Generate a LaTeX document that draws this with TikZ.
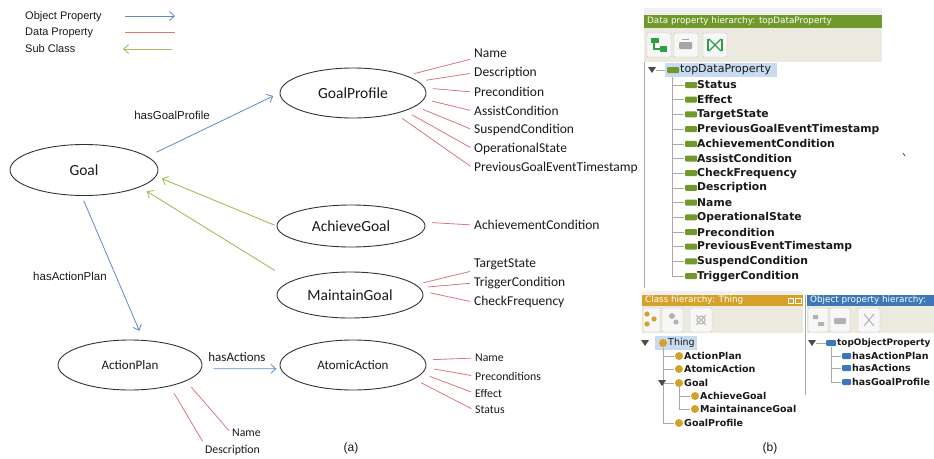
\documentclass[tikz,border=0pt]{standalone}
\usepackage{fontspec}
\setmainfont{Carlito}
\newfontfamily\arialfont{Liberation Sans}
\newfontfamily\protfont{DejaVu Sans}
\usepackage{tikz}
\usetikzlibrary{arrows.meta}
\usetikzlibrary{shapes.geometric}
\usetikzlibrary{positioning}

\definecolor{objblue}{HTML}{5B8BCB}
\definecolor{datared}{HTML}{D9787A}
\definecolor{subgreen}{HTML}{9CBF5E}
\definecolor{dpgreen}{HTML}{6F9A2B}
\definecolor{clsgold}{HTML}{D5A12A}
\definecolor{opblue}{HTML}{3C78B8}
\definecolor{barbeige}{HTML}{ECEADF}
\definecolor{selblue}{HTML}{C9DBF0}
\definecolor{btnedge}{HTML}{C6C3B4}
\definecolor{treegray}{HTML}{A8A8A8}
\definecolor{icongreen}{HTML}{2E9E46}

\begin{document}
\begin{tikzpicture}
	[x=1pt,y=-1pt,every node/.style={inner sep=1pt,text=black!90},
	 cls/.style={ellipse,draw=black!80,line width=.9pt,inner sep=0pt,font=\fontsize{15.5}{16}\selectfont},
	 lowcls/.style={cls,font=\fontsize{13}{14}\selectfont},
	 objprop/.style={draw=objblue,line width=.8pt,shorten <=6pt,shorten >=6pt,-{Straight Barb[length=5pt,width=9pt]}},
	 subcls/.style={draw=subgreen,line width=.9pt,shorten <=2pt,shorten >=6pt,-{Straight Barb[length=5pt,width=9pt]}},
	 dataprop/.style={draw=datared,line width=.8pt,shorten <=8pt,shorten >=3pt},
	 dlabel/.style={anchor=west,font=\fontsize{13.5}{14}\selectfont},
	 slabel/.style={anchor=west,font=\fontsize{11.8}{12}\selectfont},
	 legend/.style={anchor=west,font=\arialfont\fontsize{11}{12}\selectfont},
	 elabel/.style={font=\arialfont\fontsize{11.5}{12}\selectfont},
	 headtext/.style={anchor=west,text=white,font=\protfont\fontsize{8.8}{9}\selectfont},
	 roottext/.style={anchor=west,font=\protfont\fontsize{11}{12}\selectfont},
	 rowtext/.style={anchor=west,font=\protfont\bfseries\fontsize{10.8}{11}\selectfont},
	 smallrow/.style={anchor=west,font=\protfont\bfseries\fontsize{9.5}{10}\selectfont},
	 btn/.style={draw=btnedge,fill=black!3,rounded corners=1pt},
	 treeline/.style={draw=treegray,line width=.6pt}]
	\useasboundingbox (0,0) rectangle (934,458);

	% legend
	\node[legend] (lgobj) at (24,17) {Object Property};
	\node[legend] (lgdata) at (24,33) {Data Property};
	\node[legend] (lgsub) at (24,49) {Sub Class};
	\coordinate (lo1) at (125,16); \coordinate (lo2) at (175,16);
	\coordinate (ld1) at (125,32); \coordinate (ld2) at (175,32);
	\coordinate (ls1) at (123,49); \coordinate (ls2) at (172,49);
	\draw[objprop,shorten <=0pt,shorten >=0pt] (lo1) -- (lo2);
	\draw[dataprop,shorten <=0pt,shorten >=0pt] (ld1) -- (ld2);
	\draw[subcls,shorten <=0pt,shorten >=0pt] (ls2) -- (ls1);

	% classes
	\node[cls,minimum width=148pt,minimum height=51pt] (goal) at (84,170) {Goal};
	\node[cls,minimum width=146pt,minimum height=50pt] (gp) at (353,93) {GoalProfile};
	\node[cls,minimum width=148pt,minimum height=42pt] (ag) at (351,226) {AchieveGoal};
	\node[cls,minimum width=146pt,minimum height=46pt] (mg) at (350,295) {MaintainGoal};
	\node[lowcls,minimum width=144pt,minimum height=50pt] (ap) at (130,365) {ActionPlan};
	\node[lowcls,minimum width=146pt,minimum height=50pt] (aa) at (353,365) {AtomicAction};

	% data properties
	\node[dlabel] (gpn1) at (473,53) {Name};
	\node[dlabel] (gpn2) at (473,73) {Description};
	\node[dlabel] (gpn3) at (473,92) {Precondition};
	\node[dlabel] (gpn4) at (473,111) {AssistCondition};
	\node[dlabel] (gpn5) at (473,130) {SuspendCondition};
	\node[dlabel] (gpn6) at (473,149) {OperationalState};
	\node[dlabel] (gpn7) at (473,168) {PreviousGoalEventTimestamp};
	\node[dlabel] (agc) at (473,225) {AchievementCondition};
	\node[dlabel] (mg1) at (473,264) {TargetState};
	\node[dlabel] (mg2) at (473,283) {TriggerCondition};
	\node[dlabel] (mg3) at (473,302) {CheckFrequency};
	\node[slabel] (aa1) at (474,358) {Name};
	\node[slabel] (aa2) at (474,376) {Preconditions};
	\node[slabel] (aa3) at (474,393) {Effect};
	\node[slabel] (aa4) at (474,410) {Status};
	\node[slabel] (apn) at (231,433) {Name};
	\node[slabel] (apd) at (204,450) {Description};

	\foreach \from/\to in
	{gp.18/gpn1.south west, gp.10/gpn2.west, gp.4/gpn3.west, gp.-5/gpn4.west,
	 gp.-12/gpn5.west, gp.-19/gpn6.west, gp.-26/gpn7.west, ag.3/agc.west,
	 mg.9/mg1.south west, mg.6/mg2.west, mg.3/mg3.west,
	 aa.4/aa1.west, aa.-2/aa2.west, aa.-7/aa3.west, aa.-13/aa4.west,
	 ap.-16/apn.west, ap.-28/apd.north west}
	\draw[dataprop] (\from) -- (\to);

	% object properties
	\draw[objprop,shorten <=10pt,shorten >=7pt] (goal.12) -- (gp.west);
	\draw[objprop,shorten <=5pt,shorten >=10pt] (goal.-95) -- (ap.62);
	\draw[objprop,shorten <=12pt,shorten >=4pt] (ap.-3) -- (aa.183);
	\node[elabel] (lblhgp) at (172,115) {hasGoalProfile};
	\node[elabel] (lblhap) at (70,276) {hasActionPlan};
	\node[font=\fontsize{13}{14}\selectfont] (lblha) at (237,357) {hasActions};

	% sub classes
	\draw[subcls] (ag.west) -- (goal.-5);
	\draw[subcls,shorten >=8pt] (mg.west |- mg.north) -- (goal.-17);

	\node[font=\arialfont\fontsize{12}{13}\selectfont] (capa) at (351,448) {(a)};
	\node[font=\arialfont\fontsize{12}{13}\selectfont] (capb) at (770,448) {(b)};

	% data property hierarchy panel
	\fill[black!6] (644,8) rectangle (882,15);
	\fill[dpgreen] (644,15) rectangle (882,28);
	\node[headtext] (dphead) at (646,21.5) {Data property hierarchy: topDataProperty};
	\fill[barbeige] (644,28) rectangle (882,62);
	\foreach \bx in {647,674,703} \draw[btn] (\bx,33) rectangle ++(24,24);
	\fill[icongreen] (651,38) rectangle (659,43);
	\draw[icongreen,line width=1.2pt] (654,43) -- (654,49) -- (660,49);
	\fill[icongreen] (660,46) rectangle (667,52);
	\fill[black!35,rounded corners=1pt] (679,42) rectangle (692,49);
	\draw[black!35,line width=1pt] (682,39) -- (689,39);
	\draw[icongreen,line width=1.2pt] (709,39) -- (721,51) (721,39) -- (709,51);
	\draw[icongreen,line width=1.2pt] (708,39) -- (708,51) (722,39) -- (722,51);
	\fill[white] (644,62) rectangle (882,288);
	\draw[treegray] (644,62) -- (644,288);
	\fill[black!70] (648,67) -- (656,67) -- (652,73) -- cycle;
	\draw[treeline] (656,70) -- (665,70);
	\fill[selblue] (665,63) rectangle (777,77);
	\fill[dpgreen,rounded corners=1pt] (667,67) rectangle (679,73);
	\node[roottext] (dptop) at (679,70) {topDataProperty};
	\draw[treeline] (672,77) -- (672,277);
	\foreach \t [count=\i from 0] in {Status,Effect,TargetState,PreviousGoalEventTimestamp,
	  AchievementCondition,AssistCondition,CheckFrequency,Description,Name,
	  OperationalState,Precondition,PreviousEventTimestamp,SuspendCondition,TriggerCondition}
	{
	  \draw[treeline] (672,85+14.7*\i) -- ++(12,0);
	  \fill[dpgreen,rounded corners=1pt] (685,82+14.7*\i) rectangle ++(12,6);
	  \node[rowtext] (dp\i) at (696,85+14.7*\i) {\t};
	}
	\draw[black!70,line width=.8pt] (903,153) -- (905,156);

	% class hierarchy panel
	\fill[black!6] (642,291) rectangle (803,295);
	\fill[clsgold] (642,295) rectangle (803,306);
	\node[headtext] (clhead) at (644,300.5) {Class hierarchy: Thing};
	\draw[white,line width=.7pt] (788,298) rectangle (793,303) (795,298) rectangle (801,303);
	\fill[barbeige] (642,306) rectangle (803,333);
	\draw[btn] (643,308) rectangle (660,332);
	\draw[btn] (662,308) rectangle (683,332);
	\draw[btn] (690,308) rectangle (712,332);
	\fill[clsgold] (647,314) circle (2.6) (654,319) circle (2.6) (647,324) circle (2.6);
	\fill[black!30] (672,316) circle (3) (676,322) circle (2.6);
	\draw[black!30,line width=1pt] (701,320) circle (4) (696,315) -- (706,325) (706,315) -- (696,325);
	\fill[black!70] (641,340) -- (649,340) -- (645,346) -- cycle;
	\fill[selblue] (655,336) rectangle (697,350);
	\fill[clsgold] (663,343) circle (4);
	\node[anchor=west,font=\protfont\fontsize{9.5}{10}\selectfont] (clthing) at (667,343) {Thing};
	\draw[treeline] (663,348) -- (663,423);
	\foreach \t/\y in {ActionPlan/356,AtomicAction/369,Goal/383,GoalProfile/423}
	{
	  \draw[treeline] (663,\y) -- ++(11,0);
	  \fill[clsgold] (679,\y) circle (4);
	  \node[smallrow] (cl\t) at (683,\y) {\t};
	}
	\fill[black!70] (658,380) -- (666,380) -- (662,386) -- cycle;
	\draw[treeline] (679,387) -- (679,409);
	\foreach \t/\y in {AchieveGoal/396,MaintainanceGoal/409}
	{
	  \draw[treeline] (679,\y) -- ++(11,0);
	  \fill[clsgold] (695,\y) circle (4);
	  \node[smallrow] (cl\t) at (699,\y) {\t};
	}

	% object property hierarchy panel
	\fill[opblue] (807,295) rectangle (934,306);
	\node[headtext] (ophead) at (809,300.5) {Object property hierarchy:};
	\fill[barbeige] (807,306) rectangle (934,333);
	\draw[btn] (808,308) rectangle (828,332);
	\draw[btn] (830,308) rectangle (850,332);
	\draw[btn] (858,308) rectangle (880,332);
	\fill[black!30] (813,315) rectangle (818,319) (818,322) rectangle (824,326);
	\fill[black!30,rounded corners=1pt] (834,318) rectangle (846,324);
	\draw[black!30,line width=1pt] (864,314) -- (874,326) (874,314) -- (864,326);
	\draw[treegray] (805,295) -- (805,395);
	\fill[black!70] (808,340) -- (816,340) -- (812,346) -- cycle;
	\draw[treeline] (816,343) -- (826,343);
	\fill[opblue,rounded corners=1pt] (826,340) rectangle (836,346);
	\node[smallrow,font=\protfont\bfseries\fontsize{8.9}{10}\selectfont] (optop) at (836,343) {topObjectProperty};
	\draw[treeline] (831,347) -- (831,382);
	\foreach \t/\y in {hasActionPlan/356,hasActions/368,hasGoalProfile/382}
	{
	  \draw[treeline] (831,\y) -- ++(10,0);
	  \fill[opblue,rounded corners=1pt] (842,\y-3) rectangle ++(9,6);
	  \node[smallrow] (op\t) at (851,\y) {\t};
	}
\end{tikzpicture}
\end{document}
